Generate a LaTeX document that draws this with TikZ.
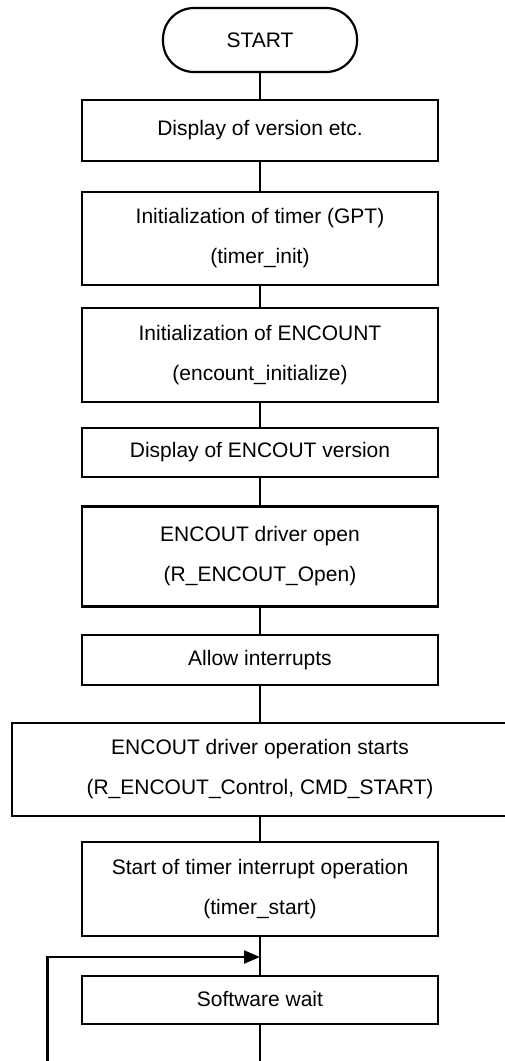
\documentclass[tikz,border=0pt]{standalone}
\usepackage{fontspec}
\setmainfont{Liberation Sans}
\usetikzlibrary{arrows.meta}
\begin{document}
\begin{tikzpicture}[x=1pt,y=1pt,
  every node/.style={inner sep=0pt, outer sep=0pt},
  fc/.style={draw=black, line width=2.2pt, fill=white, align=center,
    font=\fontsize{21}{40}\selectfont},
  procbox/.style={fc, rectangle, minimum width=356pt},
  termbox/.style={fc, rectangle, rounded corners=31pt},
  conn/.style={draw=black, line width=2.2pt},
  arr/.style={conn, -{Triangle[length=16pt,width=13pt]}}
]
\useasboundingbox (0,0) rectangle (504,-1061);
\node[termbox, minimum width=194pt, minimum height=64pt] (start) at (260,-40) {START};
\node[procbox, minimum height=61pt] (disp) at (260,-130.5) {\raisebox{3pt}{Display of version etc.}};
\node[procbox, minimum height=93pt] (tinit) at (260,-238.5) {Initialization of timer (GPT)\\(timer\_init)};
\node[procbox, minimum height=94pt] (einit) at (260,-355) {Initialization of ENCOUNT\\(encount\_initialize)};
\node[procbox, minimum height=49pt] (ever) at (260,-452.5) {\raisebox{3pt}{Display of ENCOUT version}};
\node[procbox, minimum height=100pt] (eopen) at (260,-556.5) {ENCOUT driver open\\(R\_ENCOUT\_Open)};
\node[procbox, minimum height=50pt] (allow) at (260,-660) {\raisebox{3pt}{Allow interrupts}};
\node[procbox, minimum width=496pt, minimum height=93pt] (eop) at (260,-769.5) {ENCOUT driver operation starts\\(R\_ENCOUT\_Control, CMD\_START)};
\node[procbox, minimum height=94pt] (tstart) at (260,-889) {Start of timer interrupt operation\\(timer\_start)};
\node[procbox, minimum height=48pt] (swait) at (260,-1000) {\raisebox{3pt}{Software wait}};
\coordinate (merge) at (260,-957);
\coordinate (loopbot) at (47.5,-1075);
\coordinate (mainbot) at (260,-1075);
\draw[conn] (start) -- (disp);
\draw[conn] (disp) -- (tinit);
\draw[conn] (tinit) -- (einit);
\draw[conn] (einit) -- (ever);
\draw[conn] (ever) -- (eopen);
\draw[conn] (eopen) -- (allow);
\draw[conn] (allow) -- (eop);
\draw[conn] (eop) -- (tstart);
\draw[conn] (tstart) -- (swait);
\draw[conn] (swait) -- (mainbot);
\draw[arr] (loopbot) |- (merge);
\end{tikzpicture}
\end{document}
